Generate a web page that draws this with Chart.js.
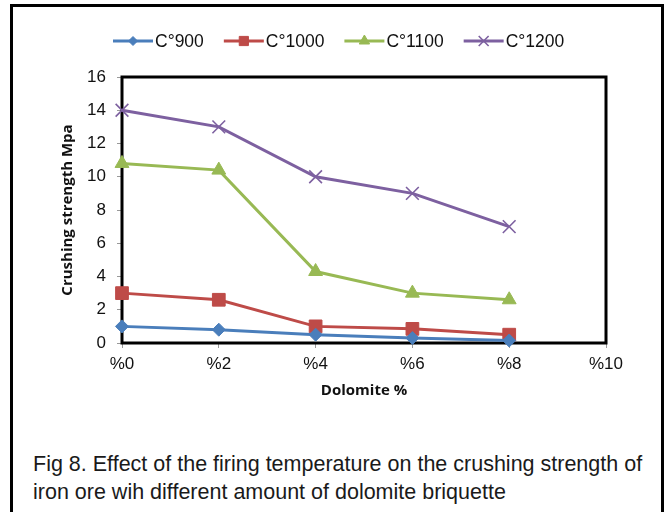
<!DOCTYPE html>
<html>
<head>
<meta charset="utf-8">
<script src="https://cdn.jsdelivr.net/npm/chart.js@4.4.1/dist/chart.umd.min.js"></script>
<style>
  body { margin: 0; background: #fff; }
  #frame {
    position: absolute; left: 10px; top: 4px; width: 654px; height: 520px;
    border: 3px solid #000; border-bottom: none; box-sizing: border-box;
  }
  #wrap { position: absolute; left: 0; top: 0; width: 666px; height: 410px; }
  #caption {
    position: absolute; left: 33px; top: 451px; width: 630px; white-space: nowrap;
    font-family: "Liberation Sans", Arial, sans-serif; font-size: 21.5px;
    line-height: 27.5px; color: #1a1a1a;
  }
</style>
</head>
<body>
<div id="frame"></div>
<div id="wrap"><canvas id="chart"></canvas></div>
<div id="caption">Fig 8. Effect of the firing temperature on the crushing strength of<br>iron ore wih different amount of dolomite briquette</div>
<script>
// 데이터
const categories = ['%0', '%2', '%4', '%6', '%8', '%10'];
const seriesNames = ['C°900', 'C°1000', 'C°1100', 'C°1200'];
const c900 = [1.0, 0.8, 0.5, 0.3, 0.15];
const c1000 = [3.0, 2.6, 1.0, 0.85, 0.5];
const c1100 = [10.8, 10.4, 4.3, 3.0, 2.6];
const c1200 = [14.0, 13.0, 10.0, 9.0, 7.0];
const yTicks = [0, 2, 4, 6, 8, 10, 12, 14, 16];

const colors = ['#4A7EBB', '#BE4B48', '#98B954', '#7D60A0'];
const styles = [
    { pointStyle: 'rectRot', radius: 6.5, legendRadius: 4.5 },
    { pointStyle: 'rect', radius: 9, legendRadius: 6.5 },
    { pointStyle: 'triangle', radius: 8, legendRadius: 6 },
    { pointStyle: 'crossRot', radius: 9, legendRadius: 7 }
];

const fontFamily = '"Liberation Sans", Arial, sans-serif';

function makeDataset(i, values) {
    return {
        label: seriesNames[i],
        data: values,
        borderColor: colors[i],
        backgroundColor: colors[i],
        borderWidth: 3,
        pointStyle: styles[i].pointStyle,
        pointRadius: styles[i].radius,
        pointBorderWidth: styles[i].pointStyle === 'crossRot' ? 1.6 : 1,
        pointBorderColor: colors[i],
        pointBackgroundColor: colors[i],
        tension: 0,
        clip: false
    };
}

// 플롯 테두리
const plotBorder = {
    id: 'plotBorder',
    beforeDatasetsDraw(chart) {
        const { ctx, chartArea: a } = chart;
        ctx.save();
        ctx.strokeStyle = '#000';
        ctx.lineWidth = 3;
        ctx.strokeRect(a.left, a.top, a.right - a.left, a.bottom - a.top);
        ctx.restore();
    }
};

// 범례 (선 + 마커)
const lineLegend = {
    id: 'lineLegend',
    afterDraw(chart) {
        const ctx = chart.ctx;
        const y = 41;
        let x = 113;
        ctx.save();
        ctx.font = '17.5px ' + fontFamily;
        ctx.textBaseline = 'middle';
        chart.data.datasets.forEach((ds, i) => {
            ctx.strokeStyle = ds.borderColor;
            ctx.lineWidth = 3;
            ctx.beginPath();
            ctx.moveTo(x, y);
            ctx.lineTo(x + 40, y);
            ctx.stroke();
            ctx.fillStyle = ds.borderColor;
            ctx.strokeStyle = ds.borderColor;
            ctx.lineWidth = ds.pointBorderWidth;
            Chart.helpers.drawPoint(ctx, {
                pointStyle: ds.pointStyle,
                radius: styles[i].legendRadius,
                rotation: 0,
                borderWidth: ds.pointBorderWidth
            }, x + 20, y);
            ctx.fillStyle = '#111';
            ctx.fillText(ds.label, x + 42, y + 1);
            x += 42 + ctx.measureText(ds.label).width + 20;
        });
        ctx.restore();
    }
};

new Chart(document.getElementById('chart'), {
    type: 'line',
    data: {
        labels: categories,
        datasets: [
            makeDataset(0, c900),
            makeDataset(1, c1000),
            makeDataset(2, c1100),
            makeDataset(3, c1200)
        ]
    },
    options: {
        responsive: true,
        maintainAspectRatio: false,
        animation: false,
        layout: { padding: { left: 55, top: 77, right: 60, bottom: 0 } },
        plugins: {
            legend: { display: false },
            tooltip: { enabled: false }
        },
        scales: {
            x: {
                offset: false,
                grid: { drawOnChartArea: false, drawTicks: true, tickLength: 5, color: '#999' },
                border: { display: false },
                ticks: { color: '#111', font: { family: fontFamily, size: 17 }, padding: 6, maxRotation: 0 },
                title: {
                    display: true, text: 'Dolomite %', color: '#111',
                    font: { family: '"Open Sans", sans-serif', size: 15, weight: 'bold' },
                    padding: { top: 4, bottom: 10 }
                },
                afterFit(scale) { scale.height = 67; }
            },
            y: {
                min: 0, max: 16,
                afterBuildTicks(scale) { scale.ticks = yTicks.map(v => ({ value: v })); },
                grid: { drawOnChartArea: false, drawTicks: true, tickLength: 5, color: '#999' },
                border: { display: false },
                ticks: { color: '#111', font: { family: fontFamily, size: 17 }, padding: 11 },
                title: {
                    display: true, text: 'Crushing strength Mpa', color: '#111',
                    font: { family: '"Open Sans", sans-serif', size: 15, weight: 'bold' },
                    padding: { top: 4, bottom: 0 }
                },
                afterFit(scale) { scale.width = 67; }
            }
        }
    },
    plugins: [plotBorder, lineLegend]
});
</script>
</body>
</html>
